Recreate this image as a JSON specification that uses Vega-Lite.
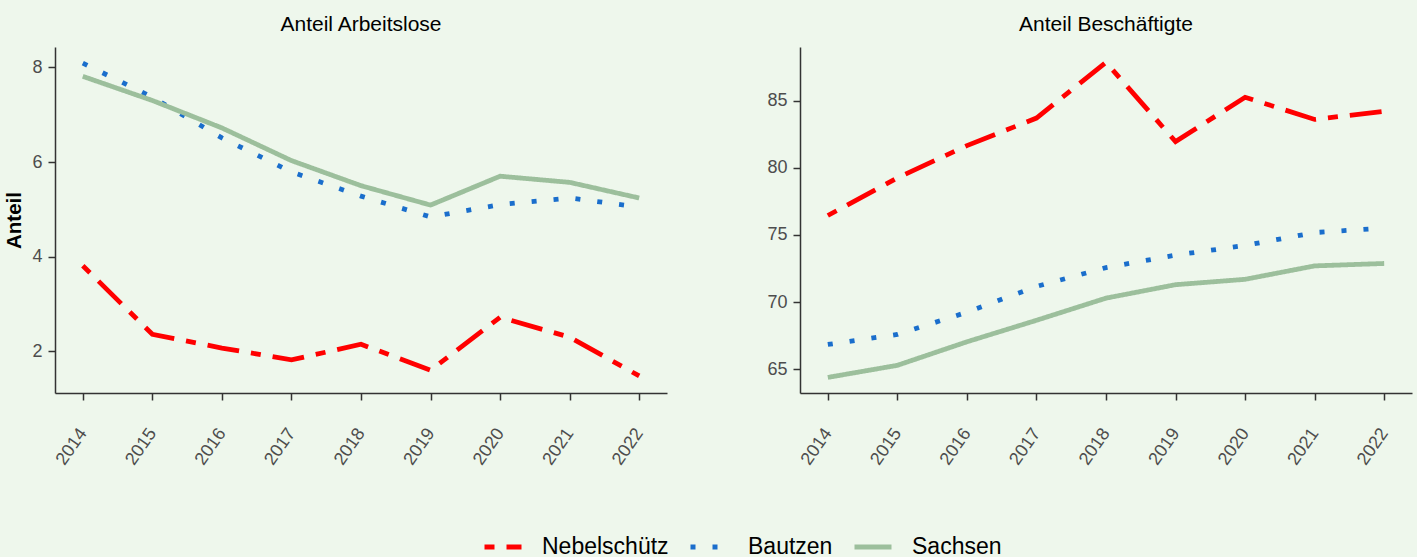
{
  "$schema": "https://vega.github.io/schema/vega-lite/v6.json",
  "background": "#EEF7EC",
  "padding": {"left": 4, "top": 14, "right": 5, "bottom": 0},
  "data": {"values": [
    {"year": 2014, "region": "Nebelschütz", "measure": "Arbeitslose", "value": 3.81},
    {"year": 2015, "region": "Nebelschütz", "measure": "Arbeitslose", "value": 2.36},
    {"year": 2016, "region": "Nebelschütz", "measure": "Arbeitslose", "value": 2.07},
    {"year": 2017, "region": "Nebelschütz", "measure": "Arbeitslose", "value": 1.82},
    {"year": 2018, "region": "Nebelschütz", "measure": "Arbeitslose", "value": 2.15},
    {"year": 2019, "region": "Nebelschütz", "measure": "Arbeitslose", "value": 1.60},
    {"year": 2020, "region": "Nebelschütz", "measure": "Arbeitslose", "value": 2.72},
    {"year": 2021, "region": "Nebelschütz", "measure": "Arbeitslose", "value": 2.30},
    {"year": 2022, "region": "Nebelschütz", "measure": "Arbeitslose", "value": 1.48},
    {"year": 2014, "region": "Bautzen", "measure": "Arbeitslose", "value": 8.09},
    {"year": 2015, "region": "Bautzen", "measure": "Arbeitslose", "value": 7.37},
    {"year": 2016, "region": "Bautzen", "measure": "Arbeitslose", "value": 6.51},
    {"year": 2017, "region": "Bautzen", "measure": "Arbeitslose", "value": 5.79},
    {"year": 2018, "region": "Bautzen", "measure": "Arbeitslose", "value": 5.28},
    {"year": 2019, "region": "Bautzen", "measure": "Arbeitslose", "value": 4.84},
    {"year": 2020, "region": "Bautzen", "measure": "Arbeitslose", "value": 5.10},
    {"year": 2021, "region": "Bautzen", "measure": "Arbeitslose", "value": 5.24},
    {"year": 2022, "region": "Bautzen", "measure": "Arbeitslose", "value": 5.05},
    {"year": 2014, "region": "Sachsen", "measure": "Arbeitslose", "value": 7.81},
    {"year": 2015, "region": "Sachsen", "measure": "Arbeitslose", "value": 7.30},
    {"year": 2016, "region": "Sachsen", "measure": "Arbeitslose", "value": 6.72},
    {"year": 2017, "region": "Sachsen", "measure": "Arbeitslose", "value": 6.03},
    {"year": 2018, "region": "Sachsen", "measure": "Arbeitslose", "value": 5.50},
    {"year": 2019, "region": "Sachsen", "measure": "Arbeitslose", "value": 5.09},
    {"year": 2020, "region": "Sachsen", "measure": "Arbeitslose", "value": 5.70},
    {"year": 2021, "region": "Sachsen", "measure": "Arbeitslose", "value": 5.57},
    {"year": 2022, "region": "Sachsen", "measure": "Arbeitslose", "value": 5.24},
    {"year": 2014, "region": "Nebelschütz", "measure": "Beschäftigte", "value": 76.45},
    {"year": 2015, "region": "Nebelschütz", "measure": "Beschäftigte", "value": 79.25},
    {"year": 2016, "region": "Nebelschütz", "measure": "Beschäftigte", "value": 81.65},
    {"year": 2017, "region": "Nebelschütz", "measure": "Beschäftigte", "value": 83.70},
    {"year": 2018, "region": "Nebelschütz", "measure": "Beschäftigte", "value": 87.85},
    {"year": 2019, "region": "Nebelschütz", "measure": "Beschäftigte", "value": 81.95},
    {"year": 2020, "region": "Nebelschütz", "measure": "Beschäftigte", "value": 85.25},
    {"year": 2021, "region": "Nebelschütz", "measure": "Beschäftigte", "value": 83.60},
    {"year": 2022, "region": "Nebelschütz", "measure": "Beschäftigte", "value": 84.20},
    {"year": 2014, "region": "Bautzen", "measure": "Beschäftigte", "value": 66.85},
    {"year": 2015, "region": "Bautzen", "measure": "Beschäftigte", "value": 67.60},
    {"year": 2016, "region": "Bautzen", "measure": "Beschäftigte", "value": 69.25},
    {"year": 2017, "region": "Bautzen", "measure": "Beschäftigte", "value": 71.17},
    {"year": 2018, "region": "Bautzen", "measure": "Beschäftigte", "value": 72.57},
    {"year": 2019, "region": "Bautzen", "measure": "Beschäftigte", "value": 73.50},
    {"year": 2020, "region": "Bautzen", "measure": "Beschäftigte", "value": 74.22},
    {"year": 2021, "region": "Bautzen", "measure": "Beschäftigte", "value": 75.18},
    {"year": 2022, "region": "Bautzen", "measure": "Beschäftigte", "value": 75.52},
    {"year": 2014, "region": "Sachsen", "measure": "Beschäftigte", "value": 64.40},
    {"year": 2015, "region": "Sachsen", "measure": "Beschäftigte", "value": 65.30},
    {"year": 2016, "region": "Sachsen", "measure": "Beschäftigte", "value": 67.05},
    {"year": 2017, "region": "Sachsen", "measure": "Beschäftigte", "value": 68.65},
    {"year": 2018, "region": "Sachsen", "measure": "Beschäftigte", "value": 70.30},
    {"year": 2019, "region": "Sachsen", "measure": "Beschäftigte", "value": 71.30},
    {"year": 2020, "region": "Sachsen", "measure": "Beschäftigte", "value": 71.70},
    {"year": 2021, "region": "Sachsen", "measure": "Beschäftigte", "value": 72.70},
    {"year": 2022, "region": "Sachsen", "measure": "Beschäftigte", "value": 72.88}
  ]},
  "spacing": 99,
  "hconcat": [
    {
      "title": "Anteil Arbeitslose",
      "width": 612,
      "height": 346,
      "transform": [{"filter": "datum.measure === 'Arbeitslose'"}],
      "mark": {"type": "line", "strokeWidth": 4.8, "strokeCap": "butt", "strokeJoin": "miter"},
      "encoding": {
        "x": {"field": "year", "type": "quantitative", "scale": {"domain": [2013.6, 2022.4], "nice": false},
              "axis": {"values": [2014, 2015, 2016, 2017, 2018, 2019, 2020, 2021, 2022], "format": "d", "title": null}},
        "y": {"field": "value", "type": "quantitative", "scale": {"domain": [1.12, 8.43], "nice": false, "zero": false},
              "axis": {"values": [2, 4, 6, 8], "title": "Anteil"}},
        "color": {"field": "region", "type": "nominal",
                  "scale": {"domain": ["Nebelschütz", "Bautzen", "Sachsen"], "range": ["#FF0000", "#1A6ECC", "#9CBF9C"]},
                  "legend": {"title": null, "orient": "none", "legendX": 427, "legendY": 479}},
        "strokeDash": {"field": "region", "type": "nominal",
                  "scale": {"domain": ["Nebelschütz", "Bautzen", "Sachsen"], "range": [[10, 12, 32, 12], [5, 17], [1, 0]]},
                  "legend": {"title": null, "orient": "none", "legendX": 427, "legendY": 479}}
      }
    },
    {
      "title": "Anteil Beschäftigte",
      "width": 612,
      "height": 346,
      "transform": [{"filter": "datum.measure === 'Beschäftigte'"}],
      "mark": {"type": "line", "strokeWidth": 4.8, "strokeCap": "butt", "strokeJoin": "miter"},
      "encoding": {
        "x": {"field": "year", "type": "quantitative", "scale": {"domain": [2013.6, 2022.4], "nice": false},
              "axis": {"values": [2014, 2015, 2016, 2017, 2018, 2019, 2020, 2021, 2022], "format": "d", "title": null}},
        "y": {"field": "value", "type": "quantitative", "scale": {"domain": [63.24, 88.99], "nice": false, "zero": false},
              "axis": {"values": [65, 70, 75, 80, 85], "title": null}},
        "color": {"field": "region", "type": "nominal",
                  "scale": {"domain": ["Nebelschütz", "Bautzen", "Sachsen"], "range": ["#FF0000", "#1A6ECC", "#9CBF9C"]},
                  "legend": {"title": null, "orient": "none", "legendX": 427, "legendY": 479}},
        "strokeDash": {"field": "region", "type": "nominal",
                  "scale": {"domain": ["Nebelschütz", "Bautzen", "Sachsen"], "range": [[10, 12, 32, 12], [5, 17], [1, 0]]},
                  "legend": {"title": null, "orient": "none", "legendX": 427, "legendY": 479}}
      }
    }
  ],
  "resolve": {"scale": {"y": "independent"}},
  "config": {
    "font": "Liberation Sans",
    "view": {"stroke": null},
    "title": {"fontSize": 21, "fontWeight": "normal", "color": "#000000", "offset": 12, "anchor": "middle"},
    "axis": {
      "grid": false,
      "domainColor": "#333333",
      "domainWidth": 1.5,
      "tickColor": "#333333",
      "tickWidth": 1.5,
      "tickSize": 7,
      "labelColor": "#4D4D4D",
      "labelFontSize": 18,
      "labelPadding": 6,
      "titleFontSize": 20.5,
      "titleFontWeight": "bold",
      "titleColor": "#000000",
      "titlePadding": 7
    },
    "axisX": {"labelAngle": -55, "labelAlign": "right", "labelBaseline": "middle", "labelPadding": 30},
    "legend": {
      "direction": "horizontal",
      "labelFontSize": 23,
      "labelColor": "#000000",
      "symbolType": "stroke",
      "symbolSize": 1369,
      "symbolStrokeWidth": 5,
      "labelOffset": 18,
      "columnPadding": 11
    }
  }
}
